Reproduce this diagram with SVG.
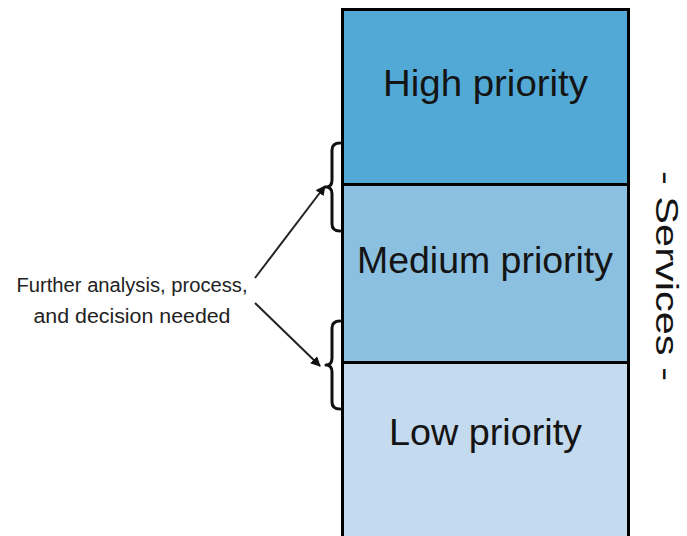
<svg xmlns="http://www.w3.org/2000/svg" width="687" height="536" viewBox="0 0 687 536">
  <defs>
    <marker id="ah" viewBox="0 0 10 10" refX="9" refY="5" markerWidth="5" markerHeight="5" orient="auto" markerUnits="strokeWidth">
      <path d="M0,0 L10,5 L0,10 z" fill="#111"/>
    </marker>
  </defs>
  <style>
    .lbl { font-family: "Liberation Sans", Arial, sans-serif; font-size: 36px; fill: #141414; text-anchor: middle; }
    .note { font-family: "Liberation Sans", Arial, sans-serif; font-size: 20px; fill: #222; text-anchor: middle; }
    .brace { fill: none; stroke: #111; stroke-width: 3; stroke-linejoin: round; stroke-linecap: round; }
    .arrow { fill: none; stroke: #222; stroke-width: 2; }
    .box { stroke: #000; stroke-width: 3; }
  </style>
  <rect width="687" height="536" fill="#ffffff"/>
  <g id="high">
    <rect class="box" x="342.5" y="9.5" width="286" height="175" fill="#52A9D6"/>
    <text class="lbl" x="485.5" y="96" textLength="205" lengthAdjust="spacingAndGlyphs">High priority</text>
  </g>
  <g id="medium">
    <rect class="box" x="342.5" y="184.5" width="286" height="178" fill="#8BC0E0"/>
    <text class="lbl" x="485" y="273" textLength="256" lengthAdjust="spacingAndGlyphs">Medium priority</text>
  </g>
  <g id="low">
    <rect class="box" x="342.5" y="362.5" width="286" height="190" fill="#C4DAEE"/>
    <text class="lbl" x="485.5" y="445" textLength="193" lengthAdjust="spacingAndGlyphs">Low priority</text>
  </g>
  <g id="note">
    <text class="note" x="132" y="292" textLength="231" lengthAdjust="spacingAndGlyphs">Further analysis, process,</text>
    <text class="note" x="132" y="323" textLength="197" lengthAdjust="spacingAndGlyphs">and decision needed</text>
  </g>
  <g id="services">
    <text font-family="Liberation Sans, Arial, sans-serif" font-size="32" fill="#141414" text-anchor="middle" transform="translate(656,276) rotate(90)" textLength="210" lengthAdjust="spacingAndGlyphs">- Services -</text>
  </g>
  <g id="braces">
    <path class="brace" d="M340,143 Q332,143 332,150 L332,180 Q332,187 326,187 Q332,187 332,194 L332,224 Q332,231 340,231"/>
    <path class="brace" d="M340,321 Q332,321 332,328 L332,358 Q332,365 326,365 Q332,365 332,372 L332,402 Q332,409 340,409"/>
  </g>
  <g id="connectors">
    <line class="arrow" x1="255" y1="278" x2="325" y2="186" marker-end="url(#ah)"/>
    <line class="arrow" x1="255" y1="303" x2="320" y2="366" marker-end="url(#ah)"/>
  </g>
</svg>
